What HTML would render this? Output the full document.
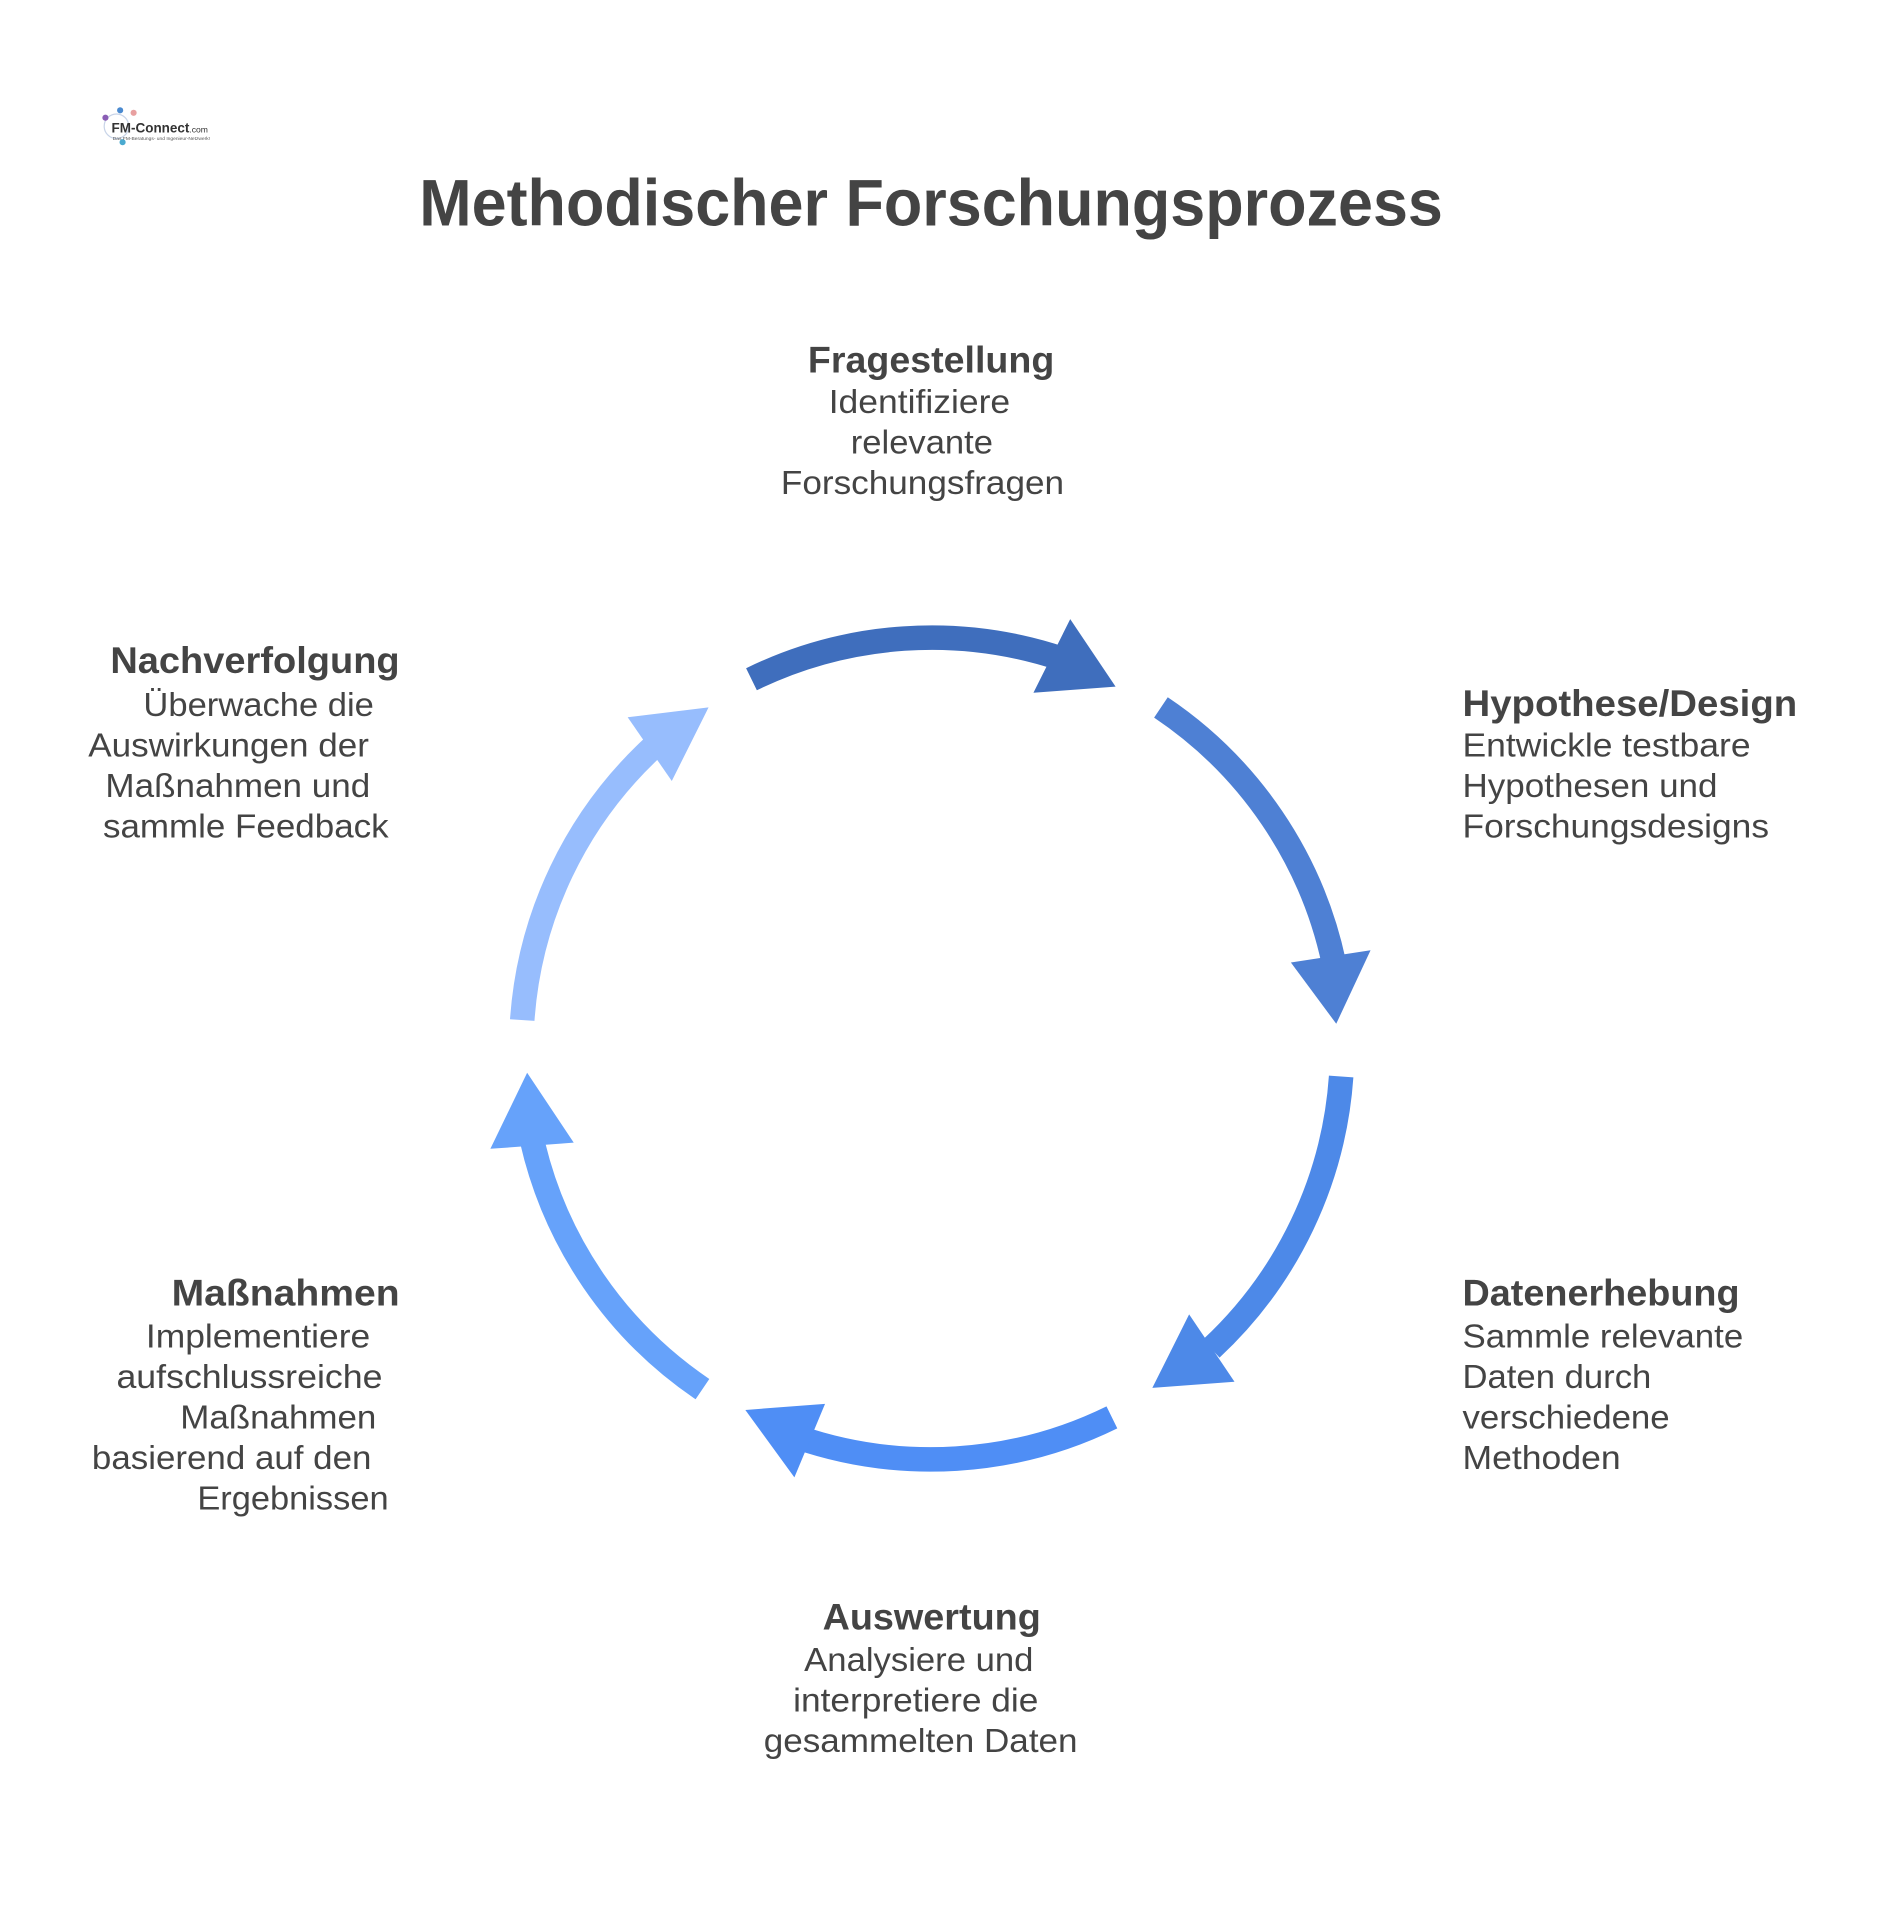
<!DOCTYPE html>
<html><head><meta charset="utf-8"><style>
html,body{margin:0;padding:0;background:#fff;}
svg{display:block;}
text{font-family:"Liberation Sans",Arial,sans-serif;fill:#444;}
.b{font-weight:bold;font-size:30px;}
.n{font-size:27px;}
</style></head><body>
<svg width="1883" height="1920" viewBox="0 0 1536 1566" preserveAspectRatio="none" xmlns="http://www.w3.org/2000/svg">
<rect width="1536" height="1566" fill="#fff"/>
<circle cx="95" cy="103" r="10" fill="none" stroke="#c8d4e8" stroke-width="1"/>
<circle cx="86" cy="96" r="2.5" fill="#8a5db5"/><circle cx="98" cy="90" r="2.5" fill="#4a8ad0"/><circle cx="109" cy="92" r="2.5" fill="#e8a0a0"/><circle cx="100" cy="116" r="2.5" fill="#4aaad0"/>
<text x="91" y="108" style="font-size:11px;font-weight:bold;fill:#333">FM-Connect<tspan style="font-size:7px;font-weight:normal">.com</tspan></text>
<text x="92" y="114" style="font-size:4px;fill:#555">Das FM-Beratungs- und Ingenieur-Netzwerk!</text>
<text x="342" y="184" textLength="835" lengthAdjust="spacingAndGlyphs" style="font-weight:bold;font-size:54px;">Methodischer Forschungsprozess</text>
<g fill="none" stroke-width="20">
<path d="M613,554 A335,335 0 0 1 865,537" stroke="#3F6EBD"/>
<path d="M947,577 A335,335 0 0 1 1088,785" stroke="#4E80D4"/>
<path d="M1094,878 A335,335 0 0 1 988,1100" stroke="#4D89E8"/>
<path d="M907,1156 A335,335 0 0 1 650,1172" stroke="#4F8EF5"/>
<path d="M573,1133 A335,335 0 0 1 434,930" stroke="#66A2FA"/>
<path d="M426,832 A335,335 0 0 1 532,610" stroke="#97BDFD"/>
</g>
<polygon points="873,505 910,560 843,565" fill="#3F6EBD"/>
<polygon points="1053,785 1118,775 1090,835" fill="#4E80D4"/>
<polygon points="970,1072 1007,1127 940,1132" fill="#4D89E8"/>
<polygon points="608,1150 673,1145 648,1205" fill="#4F8EF5"/>
<polygon points="430,875 468,932 400,937" fill="#66A2FA"/>
<polygon points="578,577 548,637 512,585" fill="#97BDFD"/>
<text class="b" x="659" y="304" textLength="201" lengthAdjust="spacingAndGlyphs">Fragestellung</text>
<text class="n" x="676" y="337" textLength="148" lengthAdjust="spacingAndGlyphs">Identifiziere</text>
<text class="n" x="694" y="370" textLength="116" lengthAdjust="spacingAndGlyphs">relevante</text>
<text class="n" x="637" y="403" textLength="231" lengthAdjust="spacingAndGlyphs">Forschungsfragen</text>

<text class="b" x="1193" y="584" textLength="273" lengthAdjust="spacingAndGlyphs">Hypothese/Design</text>
<text class="n" x="1193" y="617" textLength="235" lengthAdjust="spacingAndGlyphs">Entwickle testbare</text>
<text class="n" x="1193" y="650" textLength="208" lengthAdjust="spacingAndGlyphs">Hypothesen und</text>
<text class="n" x="1193" y="683" textLength="250" lengthAdjust="spacingAndGlyphs">Forschungsdesigns</text>

<text class="b" x="1193" y="1065" textLength="226" lengthAdjust="spacingAndGlyphs">Datenerhebung</text>
<text class="n" x="1193" y="1099" textLength="229" lengthAdjust="spacingAndGlyphs">Sammle relevante</text>
<text class="n" x="1193" y="1132" textLength="154" lengthAdjust="spacingAndGlyphs">Daten durch</text>
<text class="n" x="1193" y="1165" textLength="169" lengthAdjust="spacingAndGlyphs">verschiedene</text>
<text class="n" x="1193" y="1198" textLength="129" lengthAdjust="spacingAndGlyphs">Methoden</text>

<text class="b" x="671" y="1329" textLength="178" lengthAdjust="spacingAndGlyphs">Auswertung</text>
<text class="n" x="656" y="1363" textLength="187" lengthAdjust="spacingAndGlyphs">Analysiere und</text>
<text class="n" x="647" y="1396" textLength="200" lengthAdjust="spacingAndGlyphs">interpretiere die</text>
<text class="n" x="623" y="1429" textLength="256" lengthAdjust="spacingAndGlyphs">gesammelten Daten</text>

<text class="b" x="90" y="549" textLength="236" lengthAdjust="spacingAndGlyphs">Nachverfolgung</text>
<text class="n" x="117" y="584" textLength="188" lengthAdjust="spacingAndGlyphs">Überwache die</text>
<text class="n" x="72" y="617" textLength="229" lengthAdjust="spacingAndGlyphs">Auswirkungen der</text>
<text class="n" x="86" y="650" textLength="216" lengthAdjust="spacingAndGlyphs">Maßnahmen und</text>
<text class="n" x="84" y="683" textLength="233" lengthAdjust="spacingAndGlyphs">sammle Feedback</text>

<text class="b" x="140" y="1065" textLength="186" lengthAdjust="spacingAndGlyphs">Maßnahmen</text>
<text class="n" x="119" y="1099" textLength="183" lengthAdjust="spacingAndGlyphs">Implementiere</text>
<text class="n" x="95" y="1132" textLength="217" lengthAdjust="spacingAndGlyphs">aufschlussreiche</text>
<text class="n" x="147" y="1165" textLength="160" lengthAdjust="spacingAndGlyphs">Maßnahmen</text>
<text class="n" x="75" y="1198" textLength="228" lengthAdjust="spacingAndGlyphs">basierend auf den</text>
<text class="n" x="161" y="1231" textLength="156" lengthAdjust="spacingAndGlyphs">Ergebnissen</text>
</svg>
</body></html>
